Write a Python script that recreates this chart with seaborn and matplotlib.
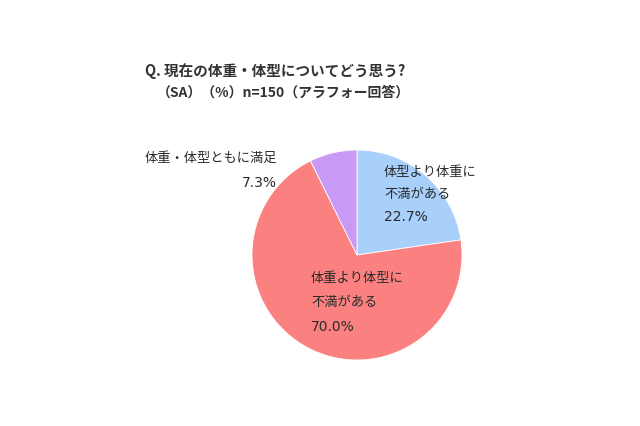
"""Pie chart: 現在の体重・体型についてどう思う?"""
import matplotlib
matplotlib.use("Agg")
import matplotlib.pyplot as plt
import seaborn as sns

# data (clockwise from 12 o'clock)
categories = ["体型より体重に\n不満がある", "体重より体型に\n不満がある", "体重・体型ともに満足"]
values = [22.7, 70.0, 7.3]
colors = ["#a9cffb", "#fb8181", "#c999f6"]

title_line1 = "Q. 現在の体重・体型についてどう思う?"
title_line2 = "（SA）（%）n=150（アラフォー回答）"

sns.set_theme(style="white")
plt.rcParams["font.family"] = ["Noto Sans CJK JP", "DejaVu Sans"]

fig = plt.figure(figsize=(6.4, 4.26), dpi=100)
fig.patch.set_facecolor("white")

# pie centre ~ (357, 255) px, radius ~105 px
W, H = 640, 426
cx, cy, r = 357, 255, 105
ax = fig.add_axes([(cx - r) / W, (H - cy - r) / H, 2 * r / W, 2 * r / H])
ax.pie(values, colors=colors, startangle=90, counterclock=False, radius=1,
       wedgeprops=dict(linewidth=0.6, edgecolor="white"))
ax.set_xlim(-1, 1)
ax.set_ylim(-1, 1)
ax.set_aspect("equal")
ax.axis("off")

text_color = "#2a2a2a"
lab_kw = dict(fontsize=9.5, color=text_color, va="center", clip_on=False)
num_kw = dict(fontsize=10, color=text_color, va="center", clip_on=False,
              family=["DejaVu Sans"])

# blue slice label (inside)
blue_lines = categories[0].split("\n")
for line, y in zip(blue_lines, [0.79, 0.58]):
    ax.text(0.257, y, line, ha="left", **lab_kw)
ax.text(0.257, 0.36, f"{values[0]:.1f}%", ha="left", **num_kw)

# red slice label (inside)
red_lines = categories[1].split("\n")
for line, y in zip(red_lines, [-0.22, -0.457]):
    ax.text(-0.438, y, line, ha="left", **lab_kw)
ax.text(-0.438, -0.686, f"{values[1]:.1f}%", ha="left", **num_kw)

# purple slice label (outside, upper left)
ax.text(-0.76, 0.924, categories[2], ha="right", **lab_kw)
ax.text(-0.76, 0.686, f"{values[2]:.1f}%", ha="right", **num_kw)

# title
fig.text(145 / W, 1 - 71 / H, title_line1, ha="left", va="center",
         fontsize=10.5, fontweight="bold", color="#333333")
fig.text(157 / W, 1 - 93 / H, title_line2, ha="left", va="center",
         fontsize=10, fontweight="bold", color="#333333")

fig.savefig("out.png", dpi=100, facecolor="white")
